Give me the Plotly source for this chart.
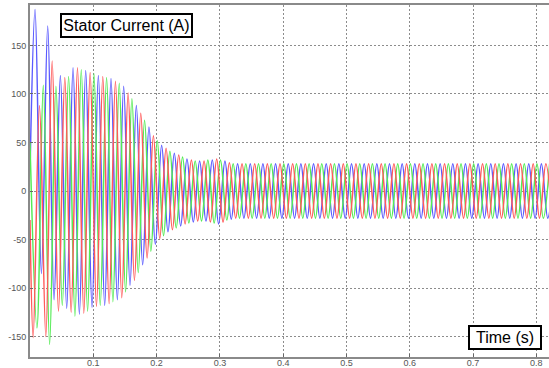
import plotly.graph_objects as go

# Peak times (s) and peak values (A), one list per phase
T_BLUE = [0.0, 0.008, 0.018, 0.028, 0.038, 0.048, 0.058, 0.068, 0.078, 0.088, 0.098,
          0.108, 0.118, 0.128, 0.138, 0.148, 0.158, 0.168, 0.178, 0.188, 0.198,
          0.208, 0.218, 0.228, 0.238, 0.248, 0.258, 0.268, 0.278, 0.288, 0.298,
          0.308, 0.318, 0.328, 0.338, 0.348, 0.358, 0.368, 0.378, 0.388, 0.398,
          0.408, 0.418, 0.428, 0.438, 0.448, 0.458, 0.468, 0.478, 0.488, 0.498,
          0.508, 0.518, 0.528, 0.538, 0.548, 0.558, 0.568, 0.578, 0.588, 0.598,
          0.608, 0.618, 0.628, 0.638, 0.648, 0.658, 0.668, 0.678, 0.688, 0.698,
          0.708, 0.718, 0.728, 0.738, 0.748, 0.758, 0.768, 0.778, 0.788, 0.798,
          0.808, 0.818, 0.828]
I_BLUE = [20, 187, -85, 170, -112, 119, -121, 127, -127, 124, -120,
          119, -118, 116, -112, 108, -97, 88, -76, 66, -55,
          47, -42, 39, -36, 33, -32, 31, -31, 32, -34,
          31, -29, 28, -28, 28, -28, 28, -28, 28, -28,
          28, -28, 28, -28, 28, -28, 28, -28, 28, -28,
          28, -28, 28, -28, 28, -28, 28, -28, 28, -28,
          28, -28, 28, -28, 28, -28, 28, -28, 28, -28,
          28, -28, 28, -28, 28, -28, 28, -28, 28, -28,
          28, -28, 28]

T_RED = [0.0, 0.005, 0.015, 0.025, 0.035, 0.045, 0.055, 0.065, 0.075, 0.085, 0.095,
         0.105, 0.115, 0.125, 0.135, 0.145, 0.155, 0.165, 0.175, 0.185, 0.195,
         0.205, 0.215, 0.225, 0.235, 0.245, 0.255, 0.265, 0.275, 0.285, 0.295,
         0.305, 0.315, 0.325, 0.335, 0.345, 0.355, 0.365, 0.375, 0.385, 0.395,
         0.405, 0.415, 0.425, 0.435, 0.445, 0.455, 0.465, 0.475, 0.485, 0.495,
         0.505, 0.515, 0.525, 0.535, 0.545, 0.555, 0.565, 0.575, 0.585, 0.595,
         0.605, 0.615, 0.625, 0.635, 0.645, 0.655, 0.665, 0.675, 0.685, 0.695,
         0.705, 0.715, 0.725, 0.735, 0.745, 0.755, 0.765, 0.775, 0.785, 0.795,
         0.805, 0.815, 0.825]
I_RED = [-30, -151, 88, -150, 134, -124, 117, -125, 127, -126, 122,
         -119, 118, -116, 113, -110, 101, -92, 80, -69, 57,
         -49, 44, -40, 37, -34, 32, -31, 31, -32, 33,
         -32, 29, -28, 28, -28, 28, -28, 28, -28, 28,
         -28, 28, -28, 28, -28, 28, -28, 28, -28, 28,
         -28, 28, -28, 28, -28, 28, -28, 28, -28, 28,
         -28, 28, -28, 28, -28, 28, -28, 28, -28, 28,
         -28, 28, -28, 28, -28, 28, -28, 28, -28, 28,
         -28, 28, -28]

T_GREEN = [0.0, 0.011, 0.021, 0.031, 0.041, 0.051, 0.061, 0.071, 0.081, 0.091, 0.101,
           0.111, 0.121, 0.131, 0.141, 0.151, 0.161, 0.171, 0.181, 0.191, 0.201,
           0.211, 0.221, 0.231, 0.241, 0.251, 0.261, 0.271, 0.281, 0.291, 0.301,
           0.311, 0.321, 0.331, 0.341, 0.351, 0.361, 0.371, 0.381, 0.391, 0.401,
           0.411, 0.421, 0.431, 0.441, 0.451, 0.461, 0.471, 0.481, 0.491, 0.501,
           0.511, 0.521, 0.531, 0.541, 0.551, 0.561, 0.571, 0.581, 0.591, 0.601,
           0.611, 0.621, 0.631, 0.641, 0.651, 0.661, 0.671, 0.681, 0.691, 0.701,
           0.711, 0.721, 0.731, 0.741, 0.751, 0.761, 0.771, 0.781, 0.791, 0.801,
           0.811, 0.821]
I_GREEN = [50, -141, 109, -158, 108, -118, 118, -129, 125, -124, 121,
           -118, 117, -114, 111, -104, 95, -84, 73, -62, 52,
           -46, 41, -38, 35, -33, 31, -31, 32, -33, 32,
           -30, 28, -28, 28, -28, 28, -28, 28, -28, 28,
           -28, 28, -28, 28, -28, 28, -28, 28, -28, 28,
           -28, 28, -28, 28, -28, 28, -28, 28, -28, 28,
           -28, 28, -28, 28, -28, 28, -28, 28, -28, 28,
           -28, 28, -28, 28, -28, 28, -28, 28, -28, 28,
           -28, 28]

X_TICKS = [0.1, 0.2, 0.3, 0.4, 0.5, 0.6, 0.7, 0.8]
Y_TICKS = [-150, -100, -50, 0, 50, 100, 150]

fig = go.Figure()
for t, i, c in [(T_BLUE, I_BLUE, "rgb(90,90,255)"),
                (T_GREEN, I_GREEN, "rgb(85,235,85)"),
                (T_RED, I_RED, "rgb(255,90,90)")]:
    fig.add_trace(go.Scatter(x=t, y=i, mode="lines",
                             line=dict(color=c, width=1.5, shape="spline", smoothing=1),
                             hoverinfo="skip", showlegend=False))

grid = dict(showgrid=True, gridcolor="#8c8c8c", gridwidth=1, griddash="2px,2px")
tickfont = dict(family="Liberation Sans, Arial, sans-serif", size=9, color="#555")

fig.update_xaxes(range=[0, 0.82], tickvals=X_TICKS, ticktext=[str(v) for v in X_TICKS],
                 showline=True, linecolor="#8a8a8a", linewidth=2, mirror=True,
                 zeroline=False, ticks="inside", ticklen=3, tickcolor="#666",
                 tickfont=tickfont, automargin=False, ticklabelstandoff=-4, **grid)
fig.update_yaxes(range=[-171, 191.6], tickvals=Y_TICKS, ticktext=[str(v) for v in Y_TICKS],
                 showline=True, linecolor="#8a8a8a", linewidth=2,
                 zeroline=False, ticks="inside", ticklen=3, tickcolor="#666",
                 tickfont=tickfont, automargin=False, **grid)

box_font = dict(family="Liberation Sans, Arial, sans-serif", size=16, color="black")
fig.add_annotation(text="Stator Current (A)", xref="paper", yref="paper",
                   x=0.0578, y=0.978, xanchor="left", yanchor="top", showarrow=False,
                   font=box_font, bgcolor="white", bordercolor="black", borderwidth=2,
                   borderpad=0, width=129, height=21)
fig.add_annotation(text="Time (s)", xref="paper", yref="paper",
                   x=0.8434, y=0.0199, xanchor="left", yanchor="bottom", showarrow=False,
                   font=box_font, bgcolor="white", bordercolor="black", borderwidth=2,
                   borderpad=0, width=70, height=21)

fig.update_layout(width=549, height=368, margin=dict(l=30, r=0, t=5, b=11),
                  paper_bgcolor="white", plot_bgcolor="white")
fig.write_html("out.html")
